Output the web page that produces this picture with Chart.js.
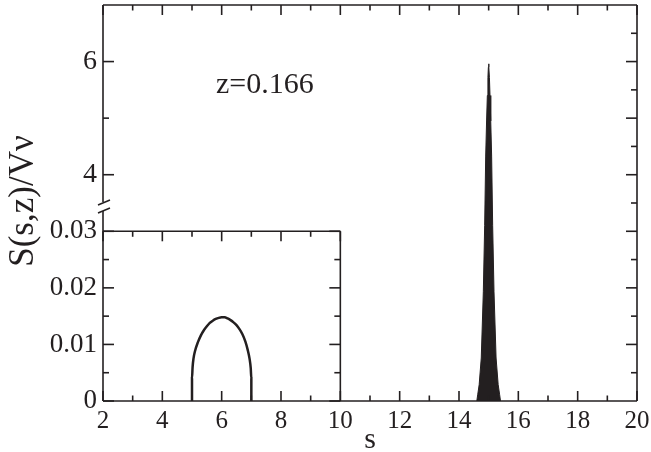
<!DOCTYPE html>
<html>
<head>
<meta charset="utf-8">
<script src="https://cdn.jsdelivr.net/npm/chart.js@4.4.1/dist/chart.umd.min.js"></script>
<style>
  html, body { margin: 0; padding: 0; background: #ffffff; }
  #wrap { width: 651px; height: 452px; }
</style>
</head>
<body>
<div id="wrap"><canvas id="c" width="651" height="452"></canvas></div>
<script>
// ---------------- data ----------------
const xTicks = [2, 4, 6, 8, 10, 12, 14, 16, 18, 20];
const yUpperTicks = [4, 6];
const yUpperTickLabels = ['4', '6'];
const yInsetTicks = [0, 0.01, 0.02, 0.03];
const yInsetTickLabels = ['0', '0.01', '0.02', '0.03'];

// main graph scale (y from 0 to 7); the inset box top (0.03) sits at main value 3
const X_MIN = 2, X_MAX = 20;
const Y_MAX = 7;
const INSET_X_MAX = 10;
const INSET_Y_MAX = 0.03;
const INSET_TOP_MAIN = 3;

// sharp peak at s = 15 (main graph)
const spikeS = [14.60, 14.63, 14.68, 14.75, 14.82, 14.865, 14.90, 14.93, 14.955, 14.975, 14.99, 15.00,
                15.01, 15.025, 15.045, 15.07, 15.10, 15.135, 15.18, 15.25, 15.32, 15.37, 15.40];
const spikeV = [0, 0.11, 0.29, 0.76, 1.93, 3.10, 4.33, 4.95, 5.40, 5.72, 5.90, 5.96,
                5.90, 5.72, 5.40, 4.95, 4.33, 3.10, 1.93, 0.76, 0.29, 0.11, 0];

// small dome between s = 5 and 7 (inset graph)
const insetS = [5.00, 5.00, 5.02, 5.05, 5.10, 5.20, 5.30, 5.40, 5.50, 5.60, 5.70, 5.80, 5.90,
                6.00, 6.10, 6.20, 6.30, 6.40, 6.50, 6.60, 6.70, 6.80, 6.88, 6.94, 6.98, 7.00, 7.00];
const insetV = [0, 0.0040, 0.0060, 0.0075, 0.0088, 0.0104, 0.0116, 0.0125, 0.0132, 0.0138, 0.0142,
                0.0145, 0.0147, 0.0148, 0.0148, 0.0146, 0.0143, 0.0139, 0.0134, 0.0127, 0.0118,
                0.0105, 0.0090, 0.0075, 0.0058, 0.0040, 0];

const annotationText = 'z=0.166';
const xTitle = 's';
const yTitle = 'S(s,z)/V\u03BD';

// ---------------- styles ----------------
const INK = '#231f20';
const SERIF = '"Liberation Serif", "DejaVu Serif", "Times New Roman", serif';

const yInMax = INSET_Y_MAX * Y_MAX / INSET_TOP_MAIN;
const yTickValues = yInsetTicks.map(t => t / yInMax * Y_MAX).concat(yUpperTicks);
const yTickLabels = yInsetTickLabels.concat(yUpperTickLabels);

const framePlugin = {
  id: 'frame',
  afterDraw(chart) {
    const ctx = chart.ctx;
    const xs = chart.scales.x, ys = chart.scales.y, yi = chart.scales.yIn;
    const a = chart.chartArea;
    const L = a.left, R = a.right, T = a.top, B = a.bottom;
    const xInR = xs.getPixelForValue(INSET_X_MAX);
    const yInT = yi.getPixelForValue(INSET_Y_MAX);
    ctx.save();
    ctx.strokeStyle = INK;
    ctx.lineWidth = 1.6;
    ctx.lineCap = 'butt';
    const line = (x1, y1, x2, y2) => { ctx.beginPath(); ctx.moveTo(x1, y1); ctx.lineTo(x2, y2); ctx.stroke(); };

    // ticks along x (bottom and top of main frame, top of inset)
    for (let v = X_MIN; v <= X_MAX; v += 1) {
      const px = xs.getPixelForValue(v);
      const len = (v % 2 === 0) ? 10 : 5.5;
      line(px, B, px, B - len);
      line(px, T, px, T + len);
      if (v <= INSET_X_MAX) line(px, yInT, px, yInT + len);
    }
    // inset y ticks (left axis and inset right border)
    for (let k = 0; k <= 6; k++) {
      const v = k * 0.005;
      const py = yi.getPixelForValue(v);
      const len = (k % 2 === 0) ? 11 : 6;
      line(L, py, L + len, py);
      line(xInR, py, xInR - len, py);
    }
    // upper y ticks on left axis
    [4, 5, 6].forEach(v => {
      const py = ys.getPixelForValue(v);
      const len = (v % 2 === 0) ? 11 : 6;
      line(L, py, L + len, py);
    });
    // right border ticks
    for (let k = 1; k < 14; k++) {
      const v = k * 0.5;
      const py = ys.getPixelForValue(v);
      const len = (k % 2 === 0) ? 11 : 6;
      line(R, py, R - len, py);
    }

    // frame
    const gapTop = 202, gapBot = 211;
    line(L, T, R, T);
    line(R, T, R, B);
    line(L, B, R, B);
    line(L, T, L, gapTop);
    line(L, gapBot, L, B);
    // inset box
    line(L, yInT, xInR, yInT);
    line(xInR, yInT, xInR, B);
    // axis break marks
    ctx.lineWidth = 1.5;
    line(L - 5, gapTop + 3, L + 7, gapTop - 2);
    line(L - 5, gapBot + 2, L + 7, gapBot - 3);

    // texts
    ctx.fillStyle = INK;
    ctx.font = '30px ' + SERIF;
    ctx.textAlign = 'left';
    ctx.textBaseline = 'alphabetic';
    ctx.fillText(annotationText, 216, 92.5);

    ctx.font = '30px ' + SERIF;
    ctx.textAlign = 'center';
    ctx.fillText(xTitle, (L + R) / 2, 448);

    ctx.save();
    ctx.translate(33, 201);
    ctx.rotate(-Math.PI / 2);
    ctx.font = '35px ' + SERIF;
    ctx.textAlign = 'center';
    ctx.fillText(yTitle, 0, 0);
    ctx.restore();

    ctx.restore();
  }
};

const chart = new Chart(document.getElementById('c'), {
  type: 'line',
  data: {
    datasets: [
      {
        label: 'peak',
        data: spikeS.map((s, i) => ({ x: s, y: spikeV[i] })),
        xAxisID: 'x', yAxisID: 'y',
        borderColor: INK, backgroundColor: INK,
        borderWidth: 1, pointRadius: 0, fill: 'origin', tension: 0
      },
      {
        label: 'inset',
        data: insetS.map((s, i) => ({ x: s, y: insetV[i] })),
        xAxisID: 'x', yAxisID: 'yIn',
        borderColor: INK, backgroundColor: 'rgba(0,0,0,0)',
        borderWidth: 2.5, pointRadius: 0, fill: false, tension: 0.3,
        cubicInterpolationMode: 'monotone'
      }
    ]
  },
  options: {
    responsive: false,
    animation: false,
    events: [],
    layout: { padding: { top: 5, right: 14, left: 0, bottom: 0 } },
    plugins: { legend: { display: false }, tooltip: { enabled: false }, title: { display: false } },
    scales: {
      x: {
        type: 'linear', min: X_MIN, max: X_MAX,
        grid: { display: false, drawTicks: false },
        border: { display: false },
        afterBuildTicks(scale) { scale.ticks = xTicks.map(v => ({ value: v })); },
        ticks: {
          autoSkip: false, maxRotation: 0, padding: 5, color: INK,
          font: { family: SERIF, size: 25 },
          callback: (v) => String(v)
        },
        afterFit(scale) { scale.height = 51; scale.paddingLeft = 0; scale.paddingRight = 0; }
      },
      y: {
        type: 'linear', position: 'left', min: 0, max: Y_MAX,
        grid: { display: false, drawTicks: false },
        border: { display: false },
        afterBuildTicks(scale) { scale.ticks = yTickValues.map(v => ({ value: v })); },
        ticks: {
          autoSkip: false, padding: 6, color: INK,
          font: (ctx) => ({ family: SERIF, size: (ctx.index >= yInsetTicks.length) ? 28 : 27 }),
          callback: (v, i) => yTickLabels[i]
        },
        afterFit(scale) { scale.width = 103; scale.paddingTop = 0; scale.paddingBottom = 0; }
      },
      yIn: {
        type: 'linear', position: 'left', min: 0, max: yInMax, display: false
      }
    }
  },
  plugins: [framePlugin]
});
</script>
</body>
</html>
